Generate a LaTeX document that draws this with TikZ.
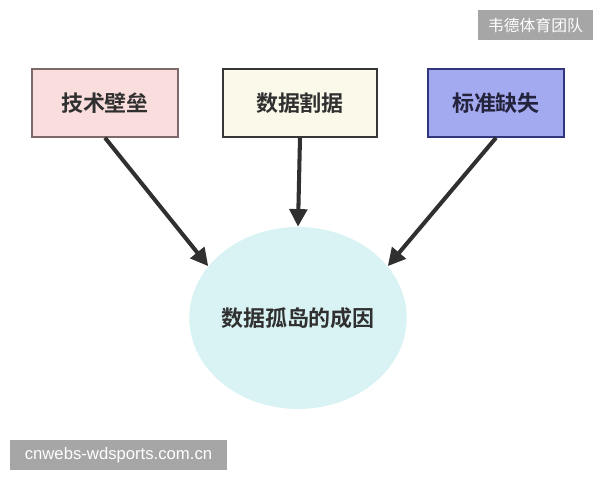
\documentclass[tikz,border=0pt]{standalone}
\usepackage{fontspec}
\newfontfamily\cjk{Noto Sans CJK SC}
\newfontfamily\cjkb{Noto Sans CJK SC Bold}
\setmainfont{Liberation Sans}
\usetikzlibrary{shapes.geometric,arrows.meta}
\definecolor{pinkfill}{RGB}{249,222,221}
\definecolor{pinkline}{RGB}{125,105,105}
\definecolor{creamfill}{RGB}{250,249,234}
\definecolor{creamline}{RGB}{55,55,55}
\definecolor{bluefill}{RGB}{163,170,240}
\definecolor{blueline}{RGB}{50,55,125}
\definecolor{islefill}{RGB}{217,243,244}
\definecolor{inkgray}{RGB}{48,48,48}
\definecolor{markgray}{RGB}{166,166,166}
\tikzset{
	cause/.style={draw,line width=0.9pt,minimum width=2.92cm,minimum height=1.36cm,inner sep=0pt,font=\cjkb\fontsize{12.5}{14}\selectfont,text=inkgray},
	push/.style={-{Triangle[length=10pt,width=10pt]},line width=2.3pt,draw=inkgray},
	stamp/.style={fill=markgray,text=white,inner sep=0pt}
}
\begin{document}
\begin{tikzpicture}[x=0.02cm,y=-0.02cm]
	\useasboundingbox (0,0) rectangle (600,480);
	\node[cause,fill=pinkfill,draw=pinkline] (tech) at (105,103) {技术壁垒};
	\node[cause,fill=creamfill,draw=creamline,minimum width=3.08cm] (split) at (300,103) {数据割据};
	\node[cause,fill=bluefill,draw=blueline,minimum width=2.72cm,text={rgb,255:red,35;green,35;blue,60}] (norm) at (496,103) {标准缺失};
	\node[ellipse,fill=islefill,minimum width=4.12cm,minimum height=3.64cm,inner sep=0pt,font=\cjkb\fontsize{12.5}{14}\selectfont,text=inkgray] (isle) at (298,318) {数据孤岛的成因};
	\draw[push] (tech.south) -- (isle.150);
	\draw[push] (split.south) -- (isle.90);
	\draw[push] (norm.south) -- (isle.30);
	% watermarks
	\node[stamp,minimum width=2.3cm,minimum height=0.6cm,font=\cjk\fontsize{9}{10}\selectfont] (team) at (535.5,25) {韦德体育团队};
	\node[stamp,minimum width=4.34cm,minimum height=0.6cm,font=\fontsize{9.5}{11}\selectfont] (site) at (118.5,455) {cnwebs-wdsports.com.cn};
\end{tikzpicture}
\end{document}
